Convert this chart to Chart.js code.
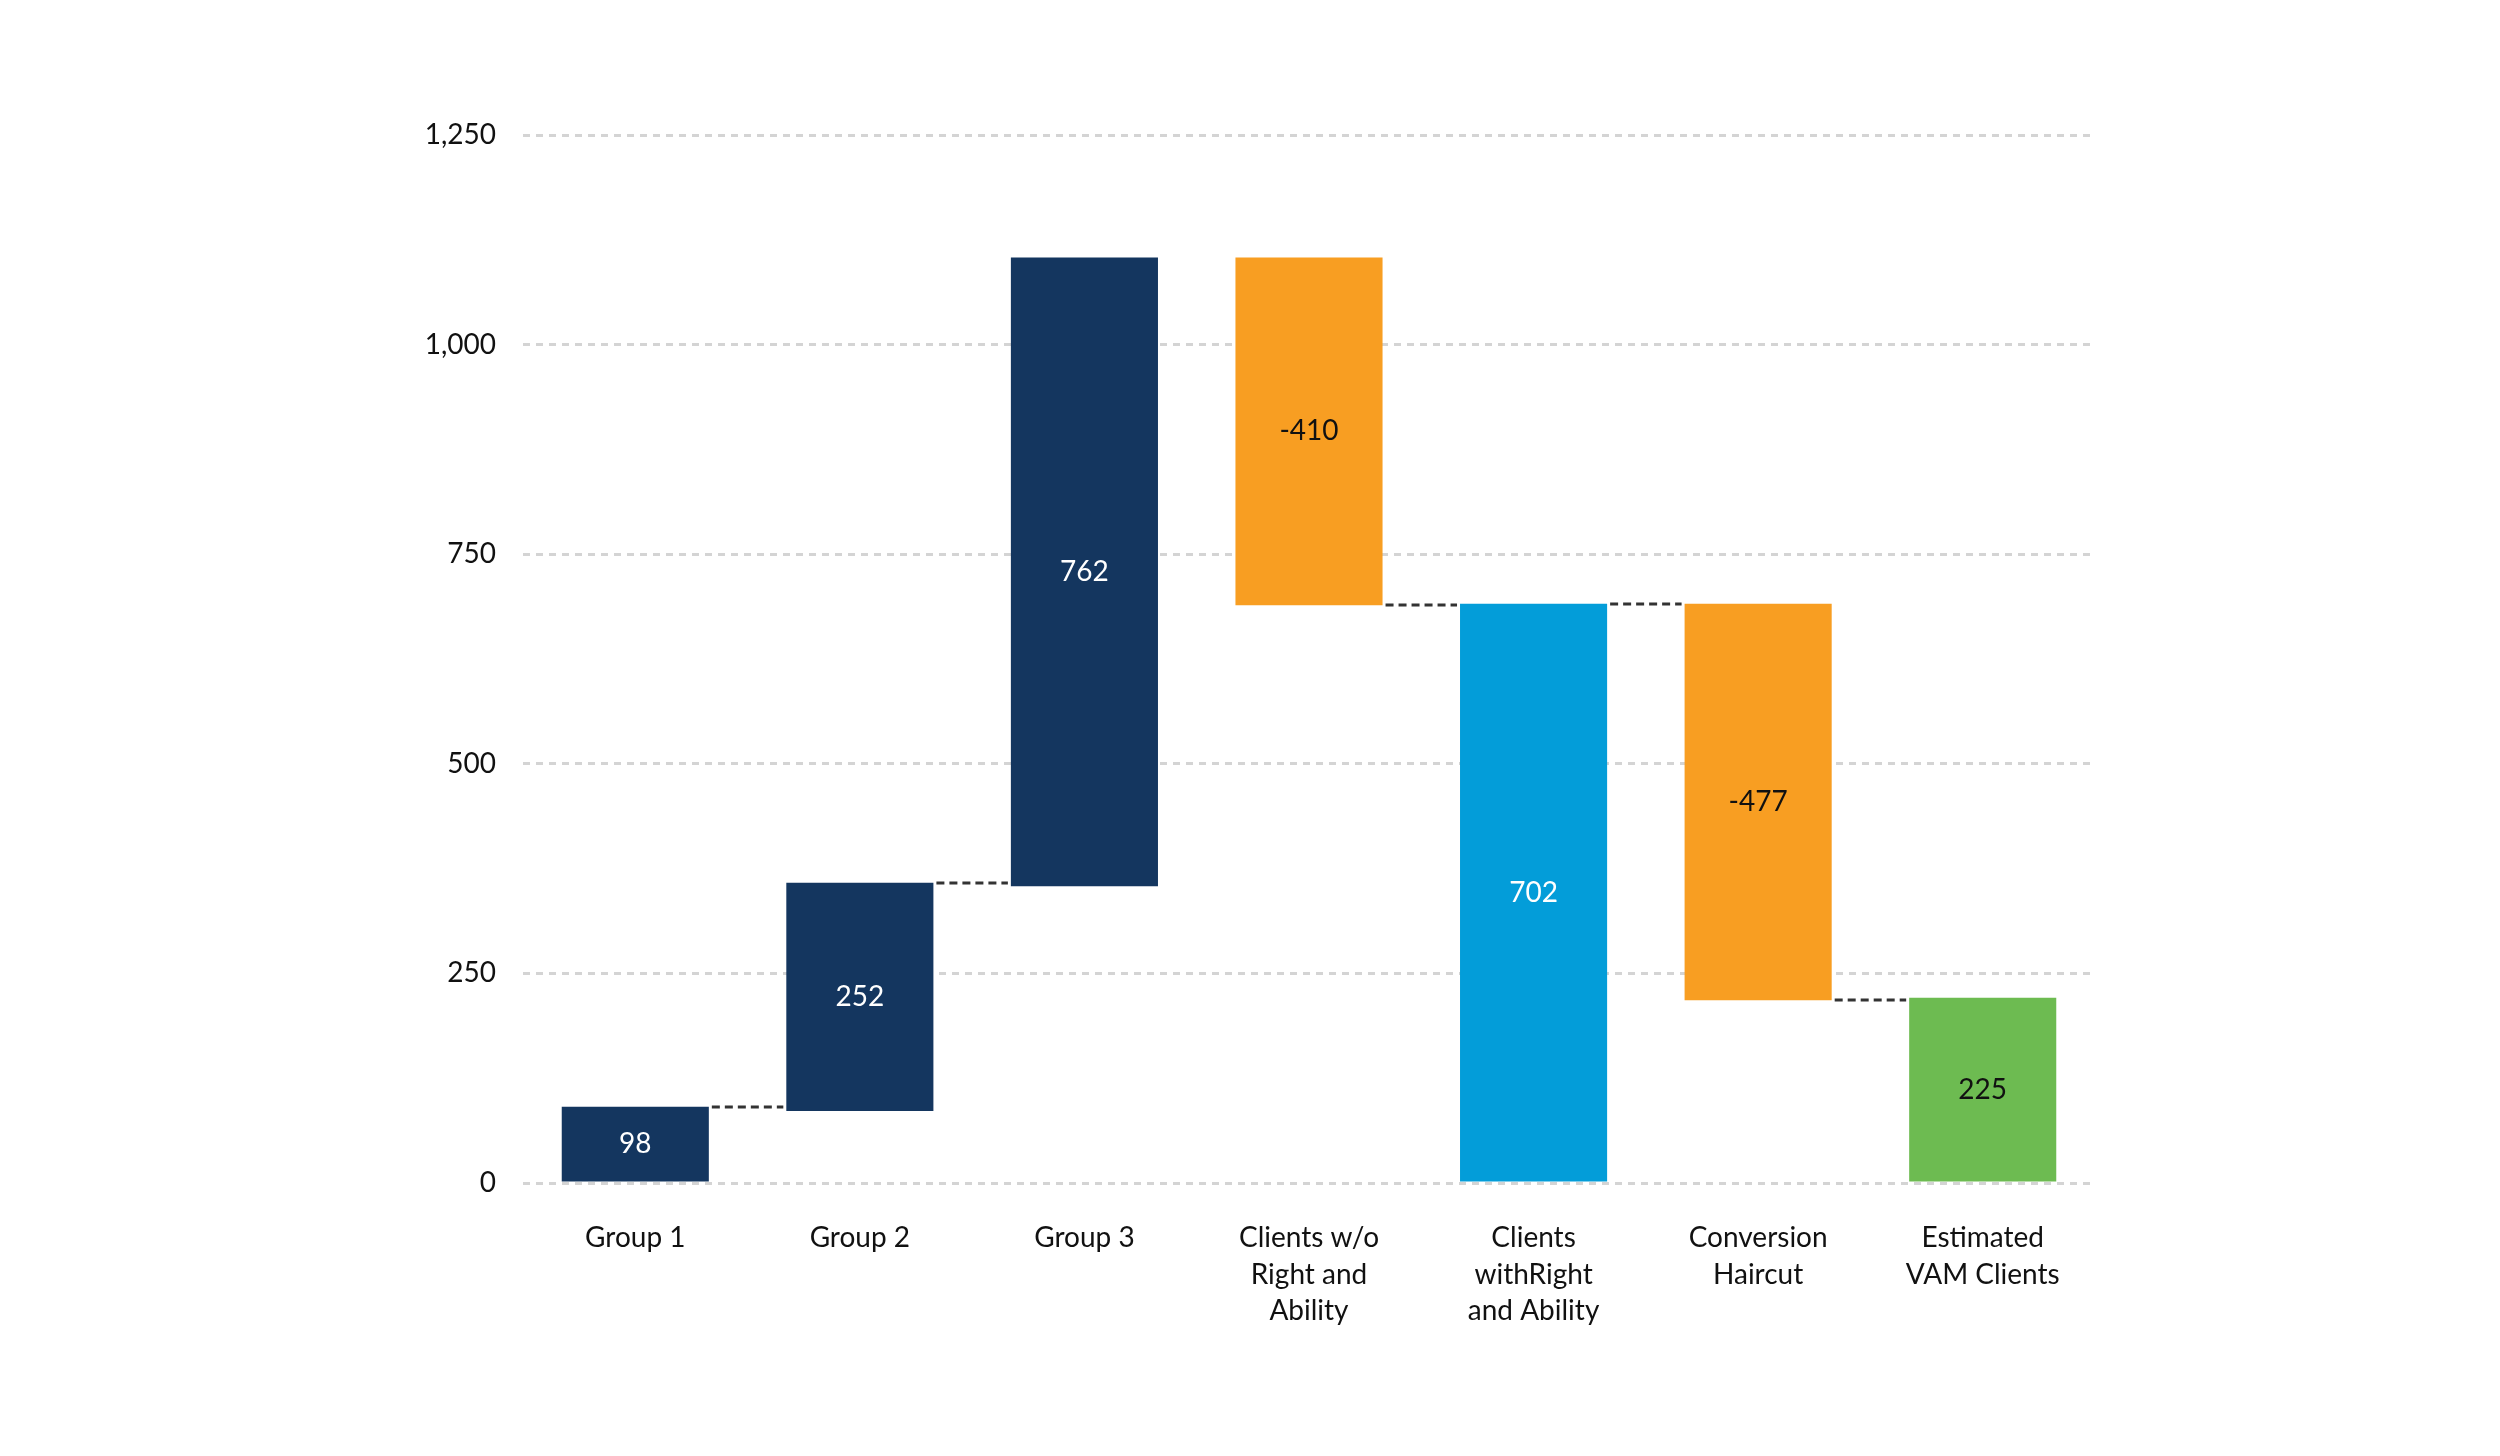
<!DOCTYPE html>
<html>
<head>
<meta charset="utf-8">
<script src="https://cdn.jsdelivr.net/npm/chart.js@4"></script>
<style>
  html, body { margin: 0; padding: 0; background: #ffffff; }
  #wrap { width: 2500px; height: 1456px; }
</style>
</head>
<body>
<div id="wrap"><canvas id="c" width="2500" height="1456"></canvas></div>
<script>
// ---- data ----
const categories = [
  'Group 1',
  'Group 2',
  'Group 3',
  ['Clients w/o', 'Right and', 'Ability'],
  ['Clients', 'withRight', 'and Ability'],
  ['Conversion', 'Haircut'],
  ['Estimated', 'VAM Clients']
];
const barStart = [0, 86, 354, 1104, 0, 691, 0];
const barEnd   = [91, 358, 1104, 689, 691, 218, 221];
const valueLabels = ['98', '252', '762', '-410', '702', '-477', '225'];
const connectorFrom = [0, 1, 3, 4, 5];   // dotted link from bar i to bar i+1
const yTicks = [0, 250, 500, 750, 1000, 1250];

// ---- styles ----
const NAVY = '#14365f', BLUE = '#039dd9', ORANGE = '#f89e22', GREEN = '#6dbb51';
const barColors = [NAVY, NAVY, NAVY, ORANGE, BLUE, ORANGE, GREEN];
const labelColors = ['#ffffff', '#ffffff', '#ffffff', '#111111', '#ffffff', '#111111', '#111111'];
const FONT = 'Lato, "Open Sans", sans-serif';

const barLabelPlugin = {
  id: 'barLabels',
  afterDatasetsDraw(chart) {
    const ctx = chart.ctx;
    const meta = chart.getDatasetMeta(0);
    ctx.save();
    ctx.font = '28px ' + FONT;
    ctx.textAlign = 'center';
    ctx.textBaseline = 'middle';
    meta.data.forEach((el, i) => {
      ctx.fillStyle = labelColors[i];
      ctx.fillText(valueLabels[i], el.x, (el.y + el.base) / 2);
    });
    ctx.restore();
  }
};

const connectorPlugin = {
  id: 'connectors',
  afterDatasetsDraw(chart) {
    const ctx = chart.ctx;
    const meta = chart.getDatasetMeta(0);
    const yScale = chart.scales.y;
    ctx.save();
    ctx.strokeStyle = '#333333';
    ctx.lineWidth = 3;
    ctx.setLineDash([8, 5]);
    connectorFrom.forEach(i => {
      const a = meta.data[i], b = meta.data[i + 1];
      const y = Math.round(yScale.getPixelForValue(barEnd[i]));
      const x1 = a.x + a.width / 2 + 3;
      const x2 = b.x - b.width / 2 - 3;
      ctx.beginPath();
      ctx.moveTo(x1, y);
      ctx.lineTo(x2, y);
      ctx.stroke();
    });
    ctx.restore();
  }
};

new Chart(document.getElementById('c'), {
  type: 'bar',
  data: {
    labels: categories,
    datasets: [{
      data: categories.map((c, i) => [barStart[i], barEnd[i]]),
      backgroundColor: barColors,
      borderWidth: 0,
      barPercentage: 0.655,
      categoryPercentage: 1.0
    }]
  },
  options: {
    responsive: false,
    devicePixelRatio: 1,
    animation: false,
    layout: { padding: { left: 0, right: 405, top: 135, bottom: 0 } },
    plugins: {
      legend: { display: false },
      tooltip: { enabled: false },
      title: { display: false }
    },
    scales: {
      x: {
        grid: { display: false, drawTicks: false },
        border: { display: false },
        ticks: {
          color: '#111111',
          font: { family: FONT, size: 28, lineHeight: 1.3 },
          padding: 37,
          maxRotation: 0,
          autoSkip: false
        },
        afterFit(scale) { scale.height = 273; }
      },
      y: {
        min: 0,
        max: 1250,
        afterBuildTicks(scale) { scale.ticks = yTicks.map(v => ({ value: v })); },
        grid: { color: '#d4d4d4', lineWidth: 3, drawTicks: false },
        border: { display: false, dash: [7, 6] },
        ticks: {
          color: '#111111',
          font: { family: FONT, size: 28 },
          padding: 27
        },
        afterFit(scale) { scale.width = 523; }
      }
    }
  },
  plugins: [barLabelPlugin, connectorPlugin]
});
</script>
</body>
</html>
